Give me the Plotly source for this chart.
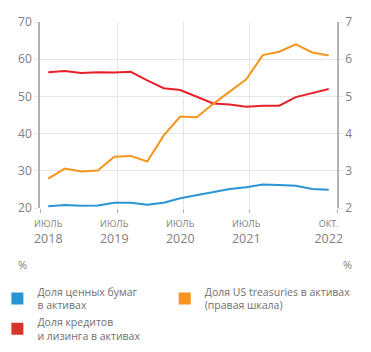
import plotly.graph_objects as go

periods = ["2018-07", "2018-10", "2019-01", "2019-04", "2019-07", "2019-10",
           "2020-01", "2020-04", "2020-07", "2020-10", "2021-01", "2021-04",
           "2021-07", "2021-10", "2022-01", "2022-04", "2022-07", "2022-10"]
securities_share = [20.5, 20.8, 20.6, 20.7, 21.4, 21.4, 20.9, 21.4, 22.6, 23.4,
                    24.2, 25.1, 25.6, 26.3, 26.2, 26.0, 25.1, 24.9]
loans_share = [56.5, 56.8, 56.3, 56.5, 56.4, 56.6, 54.3, 52.2, 51.7, 49.8,
               48.1, 47.8, 47.2, 47.5, 47.5, 49.8, 51.0, 52.0]
treasuries_share = [2.79, 3.06, 2.98, 3.01, 3.38, 3.40, 3.25, 3.95, 4.46, 4.44,
                    4.80, 5.14, 5.46, 6.11, 6.20, 6.40, 6.18, 6.10]

tick_idx = [0, 4, 8, 12, 17]
tick_month = ["ИЮЛЬ", "ИЮЛЬ", "ИЮЛЬ", "ИЮЛЬ", "ОКТ."]
tick_year = ["2018", "2019", "2020", "2021", "2022"]
grid_idx = [-0.5, 4.2, 8.2, 12.2, 17.5]

name_sec = "Доля ценных бумаг<br>в активах"
name_loans = "Доля кредитов<br>и лизинга в активах"
name_tr = "Доля US treasuries в активах<br>(правая шкала)"

BLUE = "#2b95d3"
RED = "#e8202a"
ORANGE = "#f7941d"
LEG_RED = "#d9342b"
FONT = "Open Sans"
TXT = "#808080"
GRID = "#e6e6e6"
AXIS = "#b3b3b3"

x = list(range(len(periods)))

fig = go.Figure()
fig.add_trace(go.Scatter(x=x, y=securities_share, mode="lines", line=dict(color=BLUE, width=2),
                         showlegend=False, hoverinfo="skip"))
fig.add_trace(go.Scatter(x=x, y=loans_share, mode="lines", line=dict(color=RED, width=2),
                         showlegend=False, hoverinfo="skip"))
fig.add_trace(go.Scatter(x=x, y=treasuries_share, mode="lines", line=dict(color=ORANGE, width=2),
                         yaxis="y2", showlegend=False, hoverinfo="skip"))

# legend entries (square markers)
for nm, col, lg in [(name_sec, BLUE, "legend"), (name_loans, LEG_RED, "legend"),
                    (name_tr, ORANGE, "legend2")]:
    fig.add_trace(go.Scatter(x=[None], y=[None], mode="markers", name=nm, legend=lg,
                             marker=dict(symbol="square", size=7, color=col)))

ticktext = [f"<span style='font-size:9px'>{m}</span><br>{y}" for m, y in zip(tick_month, tick_year)]

leg_common = dict(orientation="v", xanchor="left", yanchor="top", traceorder="normal",
                  font=dict(size=10.5, color="#707070"), itemsizing="constant",
                  tracegroupgap=0, bgcolor="rgba(0,0,0,0)")

fig.update_layout(
    width=371, height=352,
    margin=dict(l=40, r=34, t=22, b=144, autoexpand=False),
    paper_bgcolor="white", plot_bgcolor="white",
    font=dict(family=FONT, color=TXT, size=11),
    xaxis=dict(range=[-0.5, 17.5], tickvals=tick_idx, ticktext=ticktext,
               showgrid=False, zeroline=False, showline=False, ticks="",
               ticklabelstandoff=5,
               tickfont=dict(size=12.5, color=TXT),
               minor=dict(tickmode="array", tickvals=grid_idx, showgrid=True,
                          gridcolor=GRID, gridwidth=1, ticks="outside",
                          ticklen=4, tickcolor=AXIS, tickwidth=1)),
    yaxis=dict(range=[20, 70], dtick=10, showgrid=True, gridcolor=GRID, gridwidth=1,
               zeroline=False, showline=True, linecolor=AXIS, linewidth=1.5,
               ticks="outside", ticklen=4, tickcolor=GRID, tickfont=dict(size=12, color=TXT)),
    yaxis2=dict(range=[2, 7], dtick=1, overlaying="y", side="right", showgrid=False,
                zeroline=False, showline=True, linecolor=AXIS, linewidth=1.5,
                ticks="outside", ticklen=4, tickcolor=GRID, tickfont=dict(size=12, color=TXT)),
    legend=dict(x=-0.1435, y=-0.378, **leg_common),
    legend2=dict(x=0.42, y=-0.378, **leg_common),
    annotations=[
        dict(text="%", xref="paper", yref="paper", x=-0.06, y=-0.306, showarrow=False,
             font=dict(size=11, color=TXT), xanchor="center", yanchor="middle"),
        dict(text="%", xref="paper", yref="paper", x=1.037, y=-0.306, showarrow=False,
             font=dict(size=11, color=TXT), xanchor="center", yanchor="middle"),
    ],
)

fig.write_html("out.html")
